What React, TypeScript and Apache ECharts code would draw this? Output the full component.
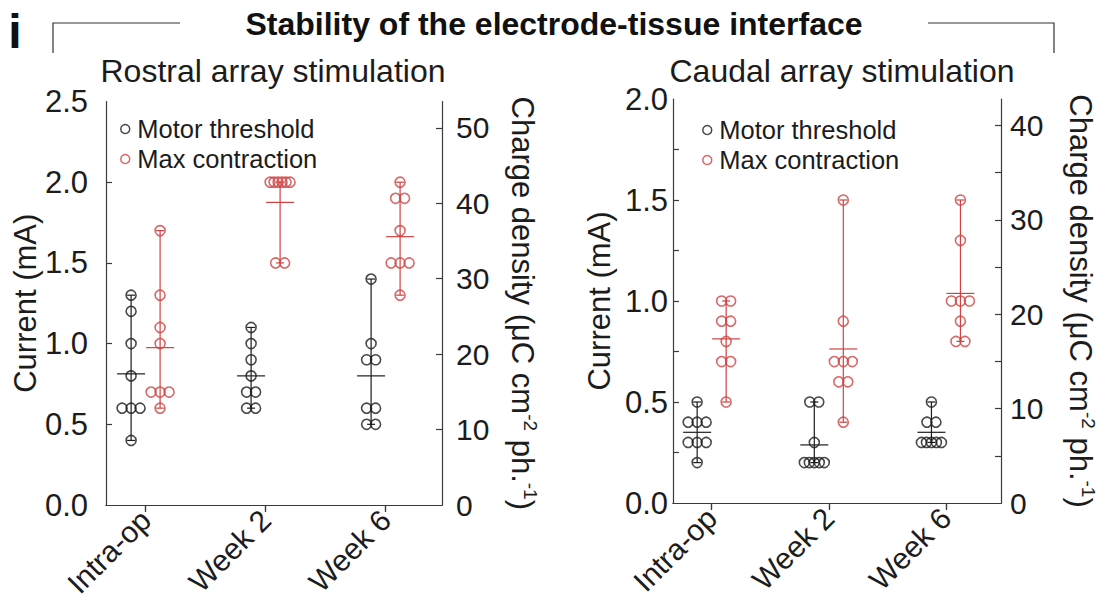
import React, { useEffect, useRef } from 'react';
import * as echarts from 'echarts';

// ---------- data ----------
const categories = ['Intra-op', 'Week 2', 'Week 6'];
const seriesNames = ['Motor threshold', 'Max contraction'];

// Rostral array stimulation (current, mA), one list per time point
const rostralMotor = [
  [1.3, 1.2, 1.0, 0.8, 0.6, 0.6, 0.6, 0.4],
  [1.1, 1.0, 0.9, 0.8, 0.7, 0.7, 0.6, 0.6],
  [1.4, 1.0, 0.9, 0.9, 0.6, 0.6, 0.5, 0.5],
];
const rostralMax = [
  [1.7, 1.3, 1.1, 1.0, 0.7, 0.7, 0.7, 0.6],
  [2.0, 2.0, 2.0, 2.0, 2.0, 2.0, 1.5, 1.5],
  [2.0, 1.9, 1.9, 1.7, 1.5, 1.5, 1.5, 1.3],
];
// Caudal array stimulation (current, mA)
const caudalMotor = [
  [0.5, 0.4, 0.4, 0.4, 0.3, 0.3, 0.3, 0.2],
  [0.5, 0.5, 0.3, 0.2, 0.2, 0.2, 0.2, 0.2],
  [0.5, 0.4, 0.4, 0.3, 0.3, 0.3, 0.3, 0.3],
];
const caudalMax = [
  [1.0, 1.0, 0.9, 0.9, 0.8, 0.7, 0.7, 0.5],
  [1.5, 0.9, 0.7, 0.7, 0.7, 0.6, 0.6, 0.4],
  [1.5, 1.3, 1.0, 1.0, 1.0, 0.9, 0.8, 0.8],
];

const rostralCurrentTicks = [0, 0.5, 1.0, 1.5, 2.0, 2.5];
const rostralCurrentTickMarks = [0.5, 1.0, 1.5, 2.0];
const rostralChargeTicks = [0, 10, 20, 30, 40, 50];
const rostralChargeTickMarks = [10, 20, 30, 40, 50];
const caudalCurrentTicks = [0, 0.5, 1.0, 1.5, 2.0];
const caudalCurrentTickMarks = [0.25, 0.5, 0.75, 1.0, 1.25, 1.5, 1.75];
const caudalChargeTicks = [0, 10, 20, 30, 40];
const caudalChargeTickMarks = [5, 10, 15, 20, 25, 30, 35, 40];
const categoryPositions = [1, 2, 3];

const CHARGE_PER_MA = 21.4; // charge density per mA of current

// ---------- style ----------
const FONT = "'Liberation Sans', Arial, Helvetica, sans-serif";
const BLACK = '#1c1c1c';
const RED = '#d04242';
const AXIS = '#3a3a3a';
const GROUP_OFFSET = 14.5;

function jitter(values: number[]): number[] {
  const counts: Record<string, number> = {};
  const seen: Record<string, number> = {};
  values.forEach((v) => (counts[v] = (counts[v] || 0) + 1));
  return values.map((v) => {
    const n = counts[v];
    const i = (seen[v] = (seen[v] === undefined ? -1 : seen[v]) + 1);
    const sp = n <= 3 ? 9 : 20 / (n - 1);
    return (i - (n - 1) / 2) * sp;
  });
}

function pointSeries(name: string, groups: number[][], color: string, off: number, xi: number, yi: number) {
  const data: any[] = [];
  groups.forEach((vals, g) => {
    const j = jitter(vals);
    vals.forEach((v, k) => {
      data.push({ value: [categoryPositions[g], v], symbolOffset: [off + j[k], 0] });
    });
  });
  return {
    type: 'scatter',
    name,
    xAxisIndex: xi,
    yAxisIndex: yi,
    symbol: 'circle',
    symbolSize: 10,
    itemStyle: { color: 'rgba(0,0,0,0)', borderColor: color, borderWidth: 1.6 },
    emphasis: { disabled: true },
    data,
    z: 3,
  };
}

function barSeries(groups: number[][], color: string, off: number, xi: number, yi: number) {
  const data = groups.map((vals, g) => {
    const mn = Math.min(...vals);
    const mx = Math.max(...vals);
    const mean = vals.reduce((a, b) => a + b, 0) / vals.length;
    return [categoryPositions[g], mn, mx, mean, off];
  });
  return {
    type: 'custom',
    xAxisIndex: xi,
    yAxisIndex: yi,
    encode: { x: 0, y: [1, 2, 3] },
    silent: true,
    z: 2,
    data,
    renderItem: (params: any, api: any) => {
      const x = api.value(0);
      const lo = api.coord([x, api.value(1)]);
      const hi = api.coord([x, api.value(2)]);
      const mid = api.coord([x, api.value(3)]);
      const cx = lo[0] + api.value(4);
      const style = { stroke: color, lineWidth: 1.2 };
      return {
        type: 'group',
        children: [
          { type: 'line', shape: { x1: cx, y1: lo[1], x2: cx, y2: hi[1] }, style },
          { type: 'line', shape: { x1: cx - 4, y1: lo[1], x2: cx + 4, y2: lo[1] }, style },
          { type: 'line', shape: { x1: cx - 4, y1: hi[1], x2: cx + 4, y2: hi[1] }, style },
          { type: 'line', shape: { x1: cx - 14, y1: mid[1], x2: cx + 14, y2: mid[1] }, style },
        ],
      };
    },
  };
}

const chargeName = 'Charge density (μC cm{sup|-2} ph.{sup|-1})';
const nameRich = {
  sup: { fontSize: 19, verticalAlign: 'top', lineHeight: 36, fontFamily: FONT, color: BLACK },
};

function panel(p: {
  gi: number; left: number; top: number; width: number; height: number;
  motor: number[][]; max: number[][]; currentMax: number;
  currentTicks: number[]; currentMarks: number[]; chargeTicks: number[]; chargeMarks: number[];
  leftLabelMargin: number; rightLabelMargin: number; leftNameGap: number; rightNameGap: number;
  legendLeft: number; legendTop: number;
}) {
  const xi = p.gi * 2;
  const yi = p.gi * 2;
  const baseX = { type: 'value', gridIndex: p.gi, min: 0.67, max: 3.47, splitLine: { show: false } };
  const xAxes = [
    {
      ...baseX,
      position: 'bottom',
      axisLine: { show: true, lineStyle: { color: AXIS, width: 1.2 } },
      axisTick: { show: true, inside: false, length: 7, customValues: categoryPositions, lineStyle: { color: AXIS, width: 1.2 } },
      axisLabel: {
        show: true, customValues: categoryPositions, rotate: 45, margin: 10,
        fontSize: 30, fontFamily: FONT, color: BLACK,
        formatter: (v: number) => categories[Math.round(v) - 1] ?? '',
      },
    },
    {
      ...baseX,
      position: 'top',
      axisLine: { show: true, lineStyle: { color: AXIS, width: 1.2 } },
      axisTick: { show: true, inside: true, length: 6, customValues: categoryPositions, lineStyle: { color: AXIS, width: 1.2 } },
      axisLabel: { show: false },
    },
  ];
  const chargeMax = p.currentMax * CHARGE_PER_MA;
  const yAxes = [
    {
      type: 'value', gridIndex: p.gi, position: 'left', min: 0, max: p.currentMax,
      splitLine: { show: false },
      axisLine: { show: true, lineStyle: { color: AXIS, width: 1.2 } },
      axisTick: { show: true, inside: true, length: 6, customValues: p.currentMarks, lineStyle: { color: AXIS, width: 1.2 } },
      axisLabel: {
        customValues: p.currentTicks, margin: p.leftLabelMargin, fontSize: 31, fontFamily: FONT, color: BLACK,
        formatter: (v: number) => v.toFixed(1),
      },
      name: 'Current (mA)', nameLocation: 'middle', nameGap: p.leftNameGap,
      nameTextStyle: { fontSize: 31, fontFamily: FONT, color: BLACK },
    },
    {
      type: 'value', gridIndex: p.gi, position: 'right', min: 0, max: chargeMax,
      splitLine: { show: false },
      axisLine: { show: true, lineStyle: { color: AXIS, width: 1.2 } },
      axisTick: { show: true, inside: true, length: 6, customValues: p.chargeMarks, lineStyle: { color: AXIS, width: 1.2 } },
      axisLabel: {
        customValues: p.chargeTicks, margin: p.rightLabelMargin, fontSize: 30, fontFamily: FONT, color: BLACK,
        formatter: (v: number) => String(Math.round(v)),
      },
      name: chargeName, nameLocation: 'middle', nameGap: p.rightNameGap, nameRotate: -90,
      nameTextStyle: { fontSize: 31, fontFamily: FONT, color: BLACK, lineHeight: 36, rich: nameRich },
    },
  ];
  const series = [
    barSeries(p.motor, BLACK, -GROUP_OFFSET, xi, yi),
    barSeries(p.max, RED, GROUP_OFFSET, xi, yi),
    pointSeries(seriesNames[0], p.motor, BLACK, -GROUP_OFFSET, xi, yi),
    pointSeries(seriesNames[1], p.max, RED, GROUP_OFFSET, xi, yi),
  ];
  const legend = {
    orient: 'vertical',
    left: p.legendLeft,
    top: p.legendTop,
    itemWidth: 14,
    itemHeight: 9,
    itemGap: 4,
    selectedMode: false,
    icon: 'circle',
    textStyle: { fontSize: 25.5, lineHeight: 25, fontFamily: FONT, color: BLACK, padding: [0, 0, 0, 0] },
    data: [
      { name: seriesNames[0], itemStyle: { color: 'rgba(0,0,0,0)', borderColor: BLACK, borderWidth: 1.5 } },
      { name: seriesNames[1], itemStyle: { color: 'rgba(0,0,0,0)', borderColor: RED, borderWidth: 1.5 } },
    ],
  };
  const grid = { left: p.left, top: p.top, width: p.width, height: p.height, containLabel: false };
  return { grid, xAxes, yAxes, series, legend };
}

export default function App() {
  const ref = useRef<HTMLDivElement>(null);
  useEffect(() => {
    if (!ref.current) return;
    const chart = echarts.init(ref.current, undefined, { renderer: 'svg' });
    const a = panel({
      gi: 0, left: 106, top: 101.5, width: 336, height: 403.5,
      motor: rostralMotor, max: rostralMax, currentMax: 2.5,
      currentTicks: rostralCurrentTicks, currentMarks: rostralCurrentTickMarks,
      chargeTicks: rostralChargeTicks, chargeMarks: rostralChargeTickMarks,
      leftLabelMargin: 18, rightLabelMargin: 14, leftNameGap: 56, rightNameGap: 62,
      legendLeft: 115, legendTop: 111,
    });
    const b = panel({
      gi: 1, left: 673, top: 99, width: 339, height: 404,
      motor: caudalMotor, max: caudalMax, currentMax: 2.0,
      currentTicks: caudalCurrentTicks, currentMarks: caudalCurrentTickMarks,
      chargeTicks: caudalChargeTicks, chargeMarks: caudalChargeTickMarks,
      leftLabelMargin: 5, rightLabelMargin: 9, leftNameGap: 58, rightNameGap: 61,
      legendLeft: 697, legendTop: 112,
    });
    chart.setOption({
      animation: false,
      backgroundColor: '#ffffff',
      textStyle: { fontFamily: FONT },
      grid: [a.grid, b.grid],
      xAxis: [...a.xAxes, ...b.xAxes],
      yAxis: [...a.yAxes, ...b.yAxes],
      series: [...a.series, ...b.series],
      legend: [a.legend, b.legend],
      graphic: [
        {
          type: 'text', x: 15, y: 31,
          style: { text: 'i', fontSize: 48, fontWeight: 'bold', fontFamily: FONT, fill: '#111', align: 'center', verticalAlign: 'middle' },
        },
        {
          type: 'polyline',
          shape: { points: [[180, 23], [53, 23], [53, 53]] },
          style: { stroke: '#333', lineWidth: 1.2, fill: null },
        },
        {
          type: 'polyline',
          shape: { points: [[928, 23], [1054, 23], [1054, 53]] },
          style: { stroke: '#333', lineWidth: 1.2, fill: null },
        },
        {
          type: 'text', x: 554, y: 24,
          style: { text: 'Stability of the electrode-tissue interface', fontSize: 32, fontWeight: 'bold', fontFamily: FONT, fill: '#111', align: 'center', verticalAlign: 'middle' },
        },
        {
          type: 'text', x: 273, y: 71,
          style: { text: 'Rostral array stimulation', fontSize: 32, fontFamily: FONT, fill: BLACK, align: 'center', verticalAlign: 'middle' },
        },
        {
          type: 'text', x: 842, y: 71,
          style: { text: 'Caudal array stimulation', fontSize: 32, fontFamily: FONT, fill: BLACK, align: 'center', verticalAlign: 'middle' },
        },
      ],
    });
    return () => chart.dispose();
  }, []);
  return <div ref={ref} style={{ position: 'fixed', left: 0, top: 0, width: 1099, height: 610, background: '#fff' }} />;
}
